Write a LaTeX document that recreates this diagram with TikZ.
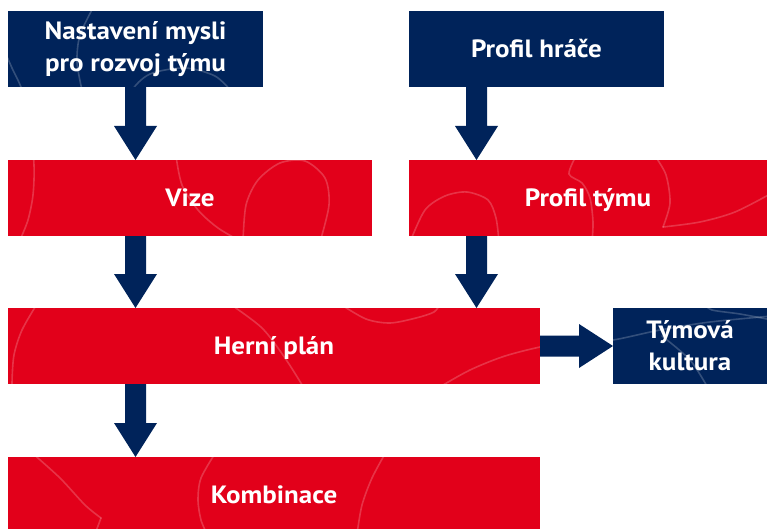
\documentclass[tikz,border=0pt]{standalone}
\usepackage{fontspec}
\setmainfont{PT Sans}
\newfontfamily\boxfont{PT Sans}[FakeStretch=1.08]
\usetikzlibrary{calc}
\definecolor{navyblue}{HTML}{00235A}
\definecolor{brandred}{HTML}{E2001A}
\newcommand{\blockdown}[2]{%
  \fill[blockarrow] let \p1=(#1), \p2=(#2) in
    (\x1-10.5pt,\y1) -- (\x1+10.5pt,\y1) -- (\x1+10.5pt,\y2+34pt) -- (\x1+21.5pt,\y2+34pt)
    -- (\x1,\y2) -- (\x1-21.5pt,\y2+34pt) -- (\x1-10.5pt,\y2+34pt) -- cycle;}
\begin{document}
\begin{tikzpicture}[x=1pt,y=-1pt,
  box/.style={rectangle, inner sep=0pt, outer sep=0pt, text=white,
    font=\boxfont\bfseries\fontsize{25}{32}\selectfont, align=center, minimum height=76pt},
  oneline/.style={text height=17.5pt, text depth=0pt},
  navybox/.style={box, fill=navyblue},
  redbox/.style={box, fill=brandred},
  blockarrow/.style={fill=navyblue},
  deco/.style={white, opacity=0.2, line width=1.6pt, line cap=round}]
\useasboundingbox (0,0) rectangle (767,529);
\coordinate (colL) at (135.5,0);
\coordinate (colR) at (476.5,0);
% boxes
\node[navybox, minimum width=255pt] (mind) at (135.5,49) {Nastavení mysli\\pro rozvoj týmu};
\node[navybox, oneline, minimum width=255pt] (hrace) at (536.5,49) {Profil hráče};
\node[redbox, oneline, minimum width=364pt] (vize) at (190,198) {Vize};
\node[redbox, oneline, minimum width=358pt] (tym) at (588,198) {Profil týmu};
\node[redbox, oneline, minimum width=532pt] (herni) at (274,346) {Herní plán};
\node[navybox, minimum width=154pt] (kultura) at (690,346) {Týmová\\kultura};
\node[redbox, oneline, minimum width=532pt] (komb) at (274,495) {Kombinace};
% decorative background lines
\begin{scope}
\clip (mind.north west) rectangle (mind.south east)
      (vize.north west) rectangle (vize.south east)
      (tym.north west) rectangle (tym.south east)
      (herni.north west) rectangle (herni.south east)
      (kultura.north west) rectangle (kultura.south east)
      (komb.north west) rectangle (komb.south east);
\draw[deco] plot[smooth] coordinates {(4,50) (12,68) (22,90) (30,125) (34,165) (33,195) (28,220) (20,240)};
\draw[deco] plot[smooth] coordinates {(94,6) (80,35) (77,62) (82,90)};
\draw[deco] plot[smooth] coordinates {(127,118) (131,92) (150,74) (185,68) (215,76) (232,92)};
\draw[deco] plot[smooth] coordinates {(176,156) (182,185) (198,210) (218,228) (242,242)};
\draw[deco] plot[smooth] coordinates {(243,242) (246,205) (258,180) (280,163) (305,161) (325,178) (329,205) (320,242)};
\draw[deco] plot[smooth] coordinates {(410,242) (425,210) (445,196) (467,192) (488,200) (496,218) (499,242)};
\draw[deco] plot[smooth] coordinates {(576,156) (569,174) (582,183) (590,198) (593,222) (592,242)};
\draw[deco] plot[smooth] coordinates {(655,156) (666,175) (670,203) (663,227)};
\draw[deco] plot[smooth] coordinates {(663,227) (700,222) (735,212) (772,193)};
\draw[deco] plot[smooth] coordinates {(37,304) (22,330) (14,355) (12,383) (13,400)};
\draw[deco] plot[smooth] coordinates {(230,304) (262,328) (285,358) (304,388)};
\draw[deco] plot[smooth] coordinates {(340,304) (366,319) (390,323) (416,318) (434,312) (440,304)};
\draw[deco] plot[smooth] coordinates {(438,388) (470,370) (505,356) (545,346) (580,342) (613,340) (660,330) (710,322) (772,316)};
\draw[deco] plot[smooth] coordinates {(705,304) (712,310) (740,314) (772,320)};
\draw[deco] plot[smooth] coordinates {(662,336) (690,360) (708,388)};
\draw[deco] plot[smooth] coordinates {(31,452) (60,478) (85,505) (101,518)};
\draw[deco] (101,518) -- (95,534);
\draw[deco] plot[smooth] coordinates {(216,452) (201,478) (198,500) (201,520) (207,534)};
\draw[deco] plot[smooth] coordinates {(386,452) (372,478) (362,505) (357,534)};
\end{scope}
% arrows
\blockdown{mind.south -| colL}{vize.north -| colL}
\blockdown{hrace.south -| colR}{tym.north -| colR}
\blockdown{vize.south -| colL}{herni.north -| colL}
\blockdown{tym.south -| colR}{herni.north -| colR}
\blockdown{herni.south -| colL}{komb.north -| colL}
\fill[blockarrow] let \p1=(herni.east), \p2=(kultura.west) in
  (\x1,\y1+10.5pt) -- (\x2-34pt,\y1+10.5pt) -- (\x2-34pt,\y1+22pt) -- (\x2,\y1)
  -- (\x2-34pt,\y1-22pt) -- (\x2-34pt,\y1-10.5pt) -- (\x1,\y1-10.5pt) -- cycle;
\end{tikzpicture}
\end{document}
